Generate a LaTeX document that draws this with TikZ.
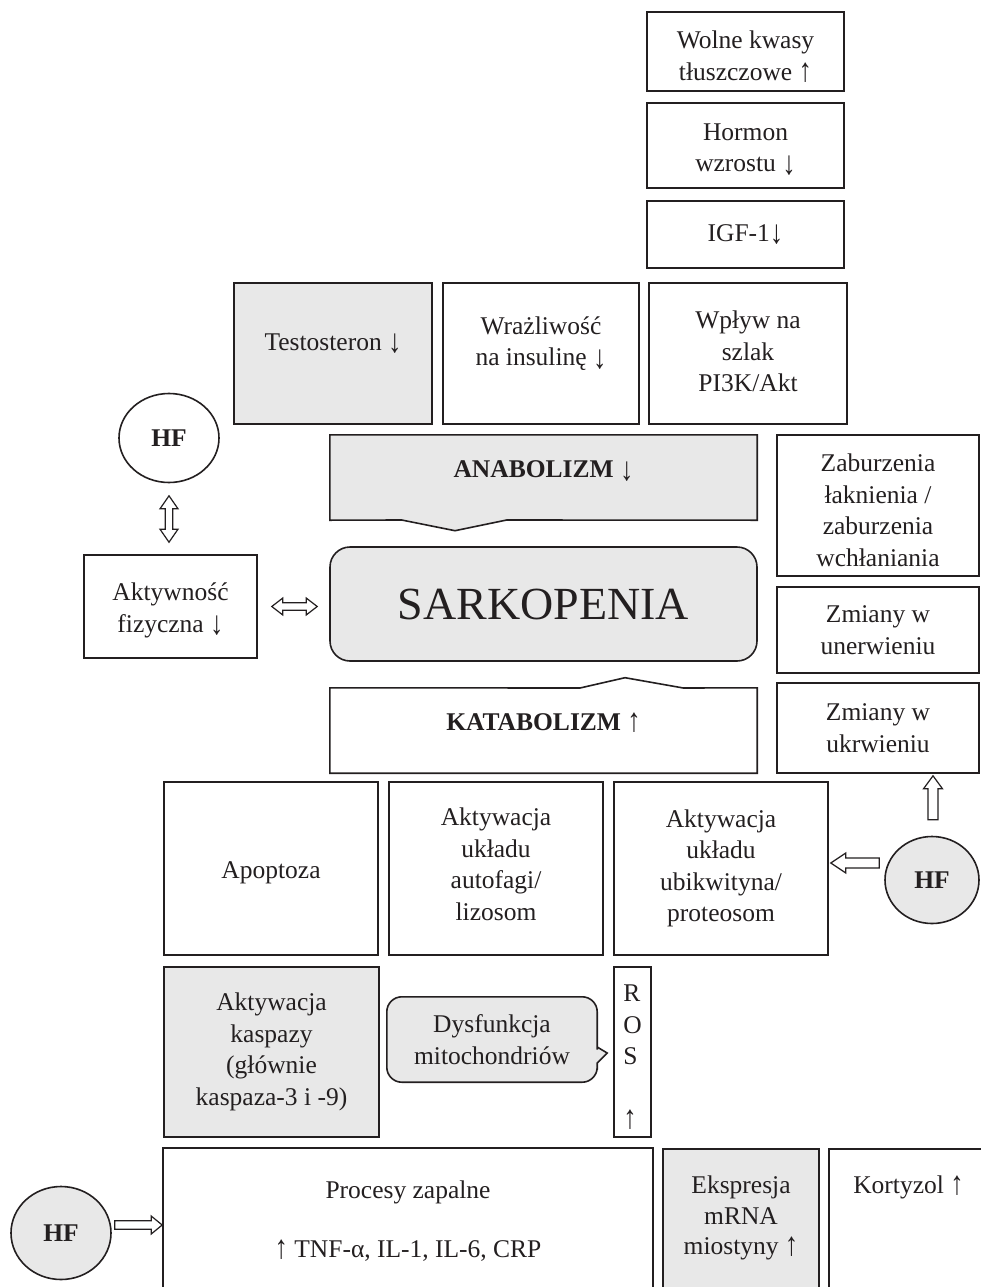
\documentclass[tikz,border=0pt]{standalone}
\usepackage{fontspec}
\usepackage{graphicx}
\setmainfont{Liberation Serif}
\usetikzlibrary{shapes.geometric,calc,backgrounds}
\definecolor{ink}{RGB}{35,31,32}
\definecolor{shade}{RGB}{232,232,232}
\newcommand\bodyfont{\fontsize{25.5}{31.5}\selectfont}
\newcommand\ua{\raisebox{-0.04em}{\scalebox{1.05}[1.3]{↑}}}
\newcommand\da{\raisebox{-0.1em}{\scalebox{1.05}[1.3]{↓}}}
\begin{document}
\begin{tikzpicture}[x=1pt,y=1pt,
  wh/.style 2 args={minimum width=#1pt, minimum height=#2pt},
  box/.style={draw=ink, line width=1.6pt, align=center, inner sep=0pt, font=\bodyfont, text=ink},
  grey/.style={fill=shade},
  hf/.style={ellipse, draw=ink, line width=1.6pt, inner sep=0pt, font=\bodyfont\bfseries, text=ink},
  lbl/.style={font=\bodyfont, text=ink, inner sep=0pt, align=center},
  blk/.style={draw=ink, line width=1.2pt, fill=white, line join=miter},
  outline/.style={draw=ink, line width=1.6pt}
]
\begin{pgfonlayer}{background}
  \fill[white] (0,0) rectangle (980,-1287);
\end{pgfonlayer}
\useasboundingbox (0,0) rectangle (980,-1287);

% top column
\node[box, wh={197}{79}] (wolne) at (745.5,-51.5) {};
\node[lbl] (wolne-t) at ([yshift=-5pt]wolne.center) {Wolne kwasy\\tłuszczowe \ua};
\node[box, wh={197}{85}] (hormon) at (745.5,-145.5) {};
\node[lbl] (hormon-t) at ([yshift=-4pt]hormon.center) {Hormon\\wzrostu \da};
\node[box, wh={197}{67}] (igf) at (745.5,-234.5) {IGF-1\da};
\node[box, grey, wh={198}{141}, text height=10pt, text depth=17pt] (testo) at (333,-353.5) {Testosteron \da};
\node[box, wh={196}{141}] (wraz) at (541,-353.5) {};
\node[lbl] (wraz-t) at ([yshift=10pt]wraz.center) {Wrażliwość\\na insulinę \da};
\node[box, wh={198}{141}] (wplyw) at (748,-353.5) {};
\node[lbl] (wplyw-t) at ([yshift=2pt]wplyw.center) {Wpływ na\\szlak\\PI3K/Akt};

\node[hf, wh={100}{89}] (hf1) at (169,-438) {HF};

% centre column
\node[lbl, font=\bodyfont\bfseries, wh={427}{85}, text height=6pt, text depth=6pt] (anab) at (543.5,-477.5) {ANABOLIZM \da};
\node[box, grey, rounded corners=20pt, wh={427}{114}, font=\fontsize{46}{50}\selectfont] (sark) at (543.5,-604) {SARKOPENIA};
\node[lbl, font=\bodyfont\bfseries, wh={427}{85}, text height=6pt, text depth=6pt] (katab) at (543.5,-730.5) {KATABOLIZM \ua};

% right column
\node[box, wh={202}{141}] (zab) at (878,-505.5) {};
\node[lbl] (zab-t) at ([yshift=-5pt]zab.center) {Zaburzenia\\łaknienia /\\zaburzenia\\wchłaniania};
\node[box, wh={202}{86}] (unerw) at (878,-630) {Zmiany w\\unerwieniu};
\node[box, wh={202}{90}] (ukrw) at (878,-728) {Zmiany w\\ukrwieniu};

\node[box, wh={173}{103}] (akt) at (170.5,-606.5) {};
\node[lbl] (akt-t) at ([yshift=-4pt]akt.center) {Aktywność\\fizyczna \da};

% catabolic row
\node[box, wh={214}{173}] (apop) at (271,-868.5) {};
\node[lbl] (apop-t) at ([yshift=-4pt]apop.center) {Apoptoza};
\node[box, wh={214}{173}] (autof) at (496,-868.5) {};
\node[lbl] (autof-t) at ([yshift=4pt]autof.center) {Aktywacja\\układu\\autofagi/\\lizosom};
\node[box, wh={214}{173}] (ubik) at (721,-868.5) {Aktywacja\\układu\\ubikwityna/\\proteosom};
\node[hf, grey, wh={94}{87}] (hf2) at (932,-880) {HF};

\node[box, grey, wh={215}{170}] (kasp) at (271.5,-1052) {Aktywacja\\kaspazy\\(głównie\\kaspaza-3 i -9)};
\node[lbl, wh={210}{85}] (dysf) at (492,-1039.5) {Dysfunkcja\\mitochondriów};
\node[box, wh={37}{170}] (ros) at (632.5,-1052) {};
\node[lbl, align=left] (ros-t) at ([yshift=-5pt]ros.center) {R\\O\\S\\[31pt]\ua};

% bottom row
\node[box, wh={490}{162}] (proc) at (408,-1229) {};
\node[box, grey, wh={156}{161}] (eksp) at (741,-1229.5) {};
\node[box, wh={166}{161}] (kort) at (912,-1229.5) {};
\node[hf, grey, wh={100}{93}] (hf3) at (61,-1233) {HF};
\node[lbl, anchor=base] (proc1) at (408,-1198) {Procesy zapalne};
\node[lbl, anchor=base] (proc2) at (408,-1257) {\ua{} TNF-α, IL-1, IL-6, CRP};
\node[lbl, anchor=north, font=\fontsize{25.5}{30.5}\selectfont] (eksp1) at (741,-1176) {Ekspresja\\mRNA\\miostyny \ua};
\node[lbl, anchor=base] (kort1) at (908.5,-1193) {Kortyzol \ua};

% shaped outlines behind their texts
\begin{pgfonlayer}{background}
\draw[outline, fill=shade] (anab.north west) -- (anab.north east) -- (anab.south east)
   -- (506.7,-520) -- (455,-530.7) -- (401.7,-520) -- (anab.south west) -- cycle;
\draw[outline, fill=white] (katab.south west) -- (katab.north west) -- (580,-688)
   -- (625,-677.7) -- (683.3,-688) -- (katab.north east) -- (katab.south east) -- cycle;
\draw[outline, fill=shade] (dysf.west) [rounded corners=15pt] -- (dysf.north west) -- (dysf.north east)
   -- ($(dysf.east)+(0,5)$) [sharp corners] -- ($(dysf.east)+(0,-7.5)$) -- ($(dysf.east)+(10,-13.5)$)
   -- ($(dysf.east)+(0,-23.5)$) -- ($(dysf.east)+(0,-30)$) [rounded corners=15pt]
   -- (dysf.south east) -- (dysf.south west) -- cycle;
\end{pgfonlayer}

% block arrows
% HF <-> Aktywnosc (vertical, double)
\draw[blk] let \p1=($(hf1.south)+(0,-12.5)$), \p2=($(akt.north)+(0,12)$) in
  (\x1,\y1) -- (\x1+9pt,\y1-13pt) -- (\x1+3.8pt,\y1-13pt) -- (\x1+3.8pt,\y2+13pt) -- (\x1+9pt,\y2+13pt)
  -- (\x1,\y2) -- (\x1-9pt,\y2+13pt) -- (\x1-3.8pt,\y2+13pt) -- (\x1-3.8pt,\y1-13pt) -- (\x1-9pt,\y1-13pt) -- cycle;
% Aktywnosc <-> SARKOPENIA (horizontal, double)
\draw[blk] let \p1=($(akt.east)+(14,0)$), \p2=($(sark.west |- akt.east)+(-12,0)$) in
  (\x1,\y1) -- (\x1+11pt,\y1+8.5pt) -- (\x1+11pt,\y1+3.8pt) -- (\x2-11pt,\y1+3.8pt) -- (\x2-11pt,\y1+8.5pt)
  -- (\x2,\y1) -- (\x2-11pt,\y1-8.5pt) -- (\x2-11pt,\y1-3.8pt) -- (\x1+11pt,\y1-3.8pt) -- (\x1+11pt,\y1-8.5pt) -- cycle;
% HF -> Zmiany w ukrwieniu (up)
\draw[blk] let \p1=($(hf2.north)+(1,16)$), \p2=($(hf2.north |- ukrw.south)+(0,-2)$) in
  (\x1-5pt,\y1) -- (\x1-5pt,\y2-13pt) -- (\x1-9.5pt,\y2-13pt) -- (\x1,\y2) -- (\x1+9.5pt,\y2-13pt)
  -- (\x1+5pt,\y2-13pt) -- (\x1+5pt,\y1) -- cycle;
% HF -> ubikwityna (left)
\draw[blk] let \p1=($(hf2.west)+(-5,17)$), \p2=($(ubik.east)+(2,0)$) in
  (\x1,\y1+5pt) -- (\x2+15pt,\y1+5pt) -- (\x2+15pt,\y1+10pt) -- (\x2,\y1) -- (\x2+15pt,\y1-10pt)
  -- (\x2+15pt,\y1-5pt) -- (\x1,\y1-5pt) -- cycle;
% HF -> Procesy zapalne (right)
\draw[blk] let \p1=($(hf3.east)+(3,8)$), \p2=(proc.west) in
  (\x1,\y1+4.3pt) -- (\x2-11pt,\y1+4.3pt) -- (\x2-11pt,\y1+9pt) -- (\x2,\y1) -- (\x2-11pt,\y1-9pt)
  -- (\x2-11pt,\y1-4.3pt) -- (\x1,\y1-4.3pt) -- cycle;
\end{tikzpicture}
\end{document}
